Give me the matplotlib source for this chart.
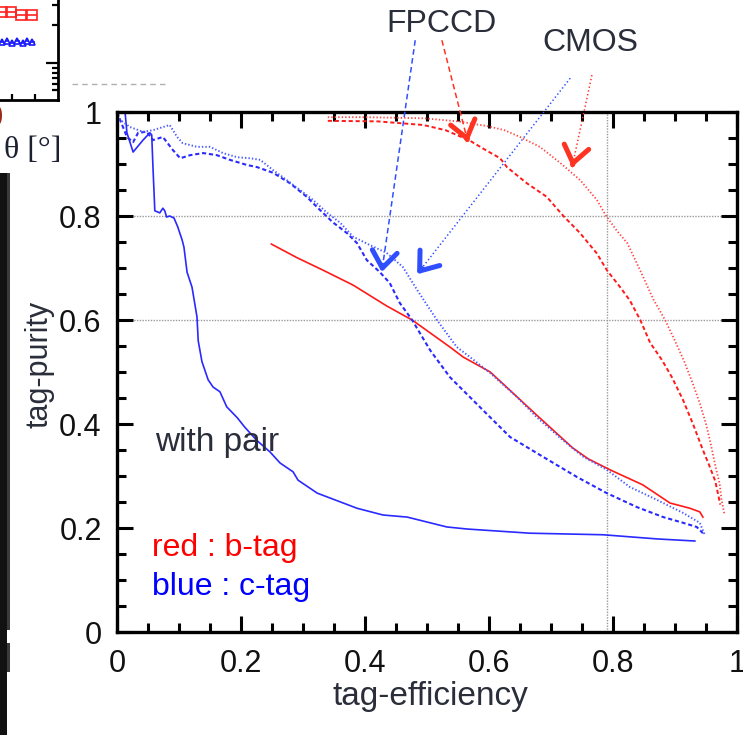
import numpy as np
import matplotlib
matplotlib.use("Agg")
import matplotlib.pyplot as plt
from matplotlib.patches import Rectangle
from matplotlib.lines import Line2D
from matplotlib.ticker import AutoMinorLocator, FuncFormatter

plt.rcParams['lines.scale_dashes'] = False
plt.rcParams['font.family'] = ['Liberation Sans', 'DejaVu Sans']

# ---------------- data: main panel ----------------
b_solid_x = [0.249, 0.290, 0.332, 0.381, 0.435, 0.476, 0.537, 0.558, 0.602, 0.640, 0.677,
             0.735, 0.760, 0.795, 0.848, 0.892, 0.924, 0.940, 0.945]
b_solid_y = [0.746, 0.720, 0.696, 0.667, 0.627, 0.600, 0.548, 0.529, 0.500, 0.458, 0.417,
             0.354, 0.333, 0.312, 0.283, 0.248, 0.238, 0.231, 0.221]

b_fpccd_x = [0.34, 0.42, 0.494, 0.53, 0.569, 0.59, 0.618, 0.629, 0.661, 0.693, 0.720, 0.747,
             0.774, 0.790, 0.811, 0.827, 0.844, 0.860, 0.879, 0.895, 0.913, 0.929, 0.945,
             0.956, 0.965, 0.970, 0.973]
b_fpccd_y = [0.983, 0.982, 0.975, 0.965, 0.945, 0.930, 0.911, 0.894, 0.863, 0.837, 0.800, 0.767,
             0.728, 0.696, 0.664, 0.638, 0.600, 0.556, 0.523, 0.490, 0.446, 0.400, 0.350,
             0.318, 0.290, 0.262, 0.245]

b_cmos_x = [0.34, 0.40, 0.494, 0.55, 0.597, 0.625, 0.650, 0.682, 0.715, 0.747, 0.774, 0.789,
            0.806, 0.823, 0.844, 0.865, 0.884, 0.900, 0.915, 0.928, 0.940, 0.950, 0.958,
            0.965, 0.972, 0.975, 0.980]
b_cmos_y = [0.990, 0.990, 0.988, 0.982, 0.973, 0.965, 0.952, 0.933, 0.902, 0.869, 0.831, 0.800,
            0.772, 0.748, 0.695, 0.640, 0.600, 0.560, 0.520, 0.480, 0.440, 0.400, 0.360,
            0.320, 0.285, 0.255, 0.225]

c_solid_x = [0.0, 0.013, 0.016, 0.026, 0.042, 0.053, 0.056, 0.058, 0.061, 0.069, 0.074, 0.077,
             0.080, 0.085, 0.092, 0.098, 0.105, 0.108, 0.113, 0.121, 0.129, 0.131, 0.137,
             0.147, 0.155, 0.166, 0.177, 0.194, 0.206, 0.225, 0.247, 0.263, 0.284, 0.292,
             0.323, 0.365, 0.387, 0.429, 0.468, 0.532, 0.565, 0.666, 0.784, 0.871, 0.932]
c_solid_y = [1.0, 1.0, 0.960, 0.923, 0.946, 0.960, 0.956, 0.894, 0.810, 0.806, 0.815, 0.810,
             0.798, 0.800, 0.796, 0.779, 0.754, 0.740, 0.692, 0.663, 0.606, 0.560, 0.520,
             0.485, 0.471, 0.462, 0.433, 0.412, 0.394, 0.369, 0.346, 0.325, 0.308, 0.292,
             0.267, 0.248, 0.238, 0.225, 0.221, 0.202, 0.198, 0.190, 0.187, 0.179, 0.175]

c_fpccd_x = [0.0, 0.005, 0.016, 0.026, 0.034, 0.048, 0.058, 0.074, 0.090, 0.102, 0.118, 0.139,
             0.161, 0.182, 0.210, 0.226, 0.252, 0.279, 0.306, 0.327, 0.348, 0.371, 0.387,
             0.403, 0.424, 0.440, 0.456, 0.476, 0.505, 0.537, 0.569, 0.590, 0.634, 0.687,
             0.742, 0.790, 0.839, 0.881, 0.913, 0.935, 0.945]
c_fpccd_y = [1.0, 0.985, 0.952, 0.942, 0.960, 0.962, 0.946, 0.952, 0.927, 0.911, 0.917, 0.921,
             0.917, 0.908, 0.898, 0.894, 0.883, 0.863, 0.837, 0.812, 0.788, 0.767, 0.748,
             0.715, 0.692, 0.671, 0.633, 0.600, 0.542, 0.490, 0.452, 0.427, 0.375, 0.337,
             0.298, 0.267, 0.240, 0.221, 0.210, 0.202, 0.190]

c_cmos_x = [0.0, 0.005, 0.021, 0.042, 0.058, 0.074, 0.085, 0.097, 0.106, 0.129, 0.150, 0.171,
            0.194, 0.215, 0.231, 0.252, 0.274, 0.295, 0.316, 0.339, 0.360, 0.381, 0.408,
            0.435, 0.461, 0.484, 0.516, 0.548, 0.569, 0.602, 0.645, 0.677, 0.719, 0.752,
            0.790, 0.827, 0.871, 0.913, 0.940, 0.948]
c_cmos_y = [1.0, 0.985, 0.971, 0.962, 0.965, 0.971, 0.975, 0.952, 0.940, 0.933, 0.933, 0.921,
            0.913, 0.911, 0.908, 0.888, 0.869, 0.850, 0.831, 0.806, 0.787, 0.760, 0.744,
            0.729, 0.702, 0.658, 0.600, 0.548, 0.529, 0.498, 0.452, 0.413, 0.369, 0.337,
            0.312, 0.279, 0.254, 0.229, 0.210, 0.187]

# annotation arrows: (start, tip) in data coords
arrow_fpccd_blue = [(0.481, 1.138), (0.427, 0.692)]
arrow_fpccd_red = [(0.524, 1.138), (0.566, 0.942)]
arrow_cmos_blue = [(0.731, 1.065), (0.484, 0.688)]
arrow_cmos_red = [(0.766, 1.071), (0.734, 0.894)]

x_ticks = [0, 0.2, 0.4, 0.6, 0.8, 1.0]
y_ticks = [0, 0.2, 0.4, 0.6, 0.8, 1.0]

# ---------------- data: cropped inset (top-left) ----------------
inset_theta_b = [131, 139, 148, 157]
inset_val_b = [88, 88, 85, 85]
inset_theta_c = [131, 135.5, 140, 144.5, 149, 153, 157.5]
inset_val_c = [58, 59, 57, 59, 57, 59, 58]
inset_xticks = [140, 160]
inset_ymajor = [37]
inset_yminor = [10, 16, 22, 27, 32, 75, 95]

W, H = 743, 735
fig = plt.figure(figsize=(W / 100, H / 100), dpi=100)
fig.patch.set_facecolor('white')

def fx(px):
    return px / W

def fy(py):
    return 1 - py / H

# ---------------- main axes ----------------
ax = fig.add_axes([fx(117), fy(632), 620 / W, 520 / H])
ax.set_xlim(0, 1)
ax.set_ylim(0, 1)

RED = '#ff1a1a'
RED_L = '#ff4848'
BLUE = '#2a2aff'
BLUE_L = '#4a5cff'

ax.plot(b_solid_x, b_solid_y, color=RED, lw=1.2)
ax.plot(b_fpccd_x, b_fpccd_y, color=RED, lw=1.4, linestyle=(0, (3, 2)))
ax.plot(b_cmos_x, b_cmos_y, color=RED_L, lw=1.3, linestyle=(0, (1, 1.5)))
ax.plot(c_solid_x, c_solid_y, color=BLUE, lw=1.2)
ax.plot(c_fpccd_x, c_fpccd_y, color=BLUE, lw=1.5, linestyle=(0, (3, 2)))
ax.plot(c_cmos_x, c_cmos_y, color=BLUE_L, lw=1.4, linestyle=(0, (1, 1.5)))

# grid lines (only a few, dotted)
for gy in (0.6, 0.8):
    ax.axhline(gy, color='#9a9a9a', lw=1.0, linestyle=(0, (1, 1)), zorder=0)
ax.axvline(0.79, color='#9a9a9a', lw=1.0, linestyle=(0, (1, 1)), zorder=0)

# spines and ticks
for s in ax.spines.values():
    s.set_linewidth(2.4)
    s.set_color('black')
ax.set_xticks(x_ticks)
ax.set_yticks(y_ticks)
ax.xaxis.set_minor_locator(AutoMinorLocator(4))
ax.yaxis.set_minor_locator(AutoMinorLocator(4))
fmt = FuncFormatter(lambda v, p: '0' if abs(v) < 1e-9 else ('1' if abs(v - 1) < 1e-9 else f'{v:.1f}'))
ax.xaxis.set_major_formatter(fmt)
ax.yaxis.set_major_formatter(fmt)
ax.tick_params(which='both', direction='in', top=True, right=True, width=2.2, color='black')
ax.tick_params(which='major', length=11.5)
ax.tick_params(which='minor', length=6.5)
ax.tick_params(axis='x', which='major', pad=12, labelsize=22, labelcolor='#111111')
ax.tick_params(axis='y', which='major', pad=11, labelsize=22, labelcolor='#111111')

TXT = '#2a2e3a'
ax.set_xlabel('tag-efficiency', fontsize=24, color=TXT)
ax.xaxis.label.set_va('center')
ax.xaxis.set_label_coords(0.505, -0.125)
ax.set_ylabel('tag-purity', fontsize=22, color=TXT)
ax.yaxis.label.set_va('center')
ax.yaxis.set_label_coords(-0.125, 0.515)

ax.text(0.061, 0.348, 'with pair', fontsize=24, color=TXT, ha='left', va='baseline')
ax.text(0.056, 0.146, 'red : b-tag', fontsize=23, color='#ff0000', ha='left', va='baseline')
ax.text(0.056, 0.071, 'blue : c-tag', fontsize=23, color='#0000ff', ha='left', va='baseline')

ax.text(0.524, 1.169, 'FPCCD', fontsize=23, color=TXT, ha='center', va='center')
ax.text(0.763, 1.133, 'CMOS', fontsize=23, color=TXT, ha='center', va='center')

def draw_arrow(pts, color, ls):
    (x0, y0), (x1, y1) = pts
    ax.plot([x0, x1], [y0, y1], color=color, lw=1.1, linestyle=ls, clip_on=False, zorder=5)
    xb = x1 + 0.03 * (x0 - x1)
    yb = y1 + 0.03 * (y0 - y1)
    ax.annotate('', xy=(x1, y1), xytext=(xb, yb), annotation_clip=False,
                arrowprops=dict(arrowstyle='->,head_length=0.6,head_width=0.45',
                                lw=3.6, color=color, mutation_scale=20,
                                shrinkA=0, shrinkB=0), zorder=6)

draw_arrow(arrow_fpccd_blue, '#2f4fff', (0, (4, 2.5)))
draw_arrow(arrow_fpccd_red, '#ff3322', (0, (4, 2.5)))
draw_arrow(arrow_cmos_blue, '#2f4fff', (0, (1, 1.8)))
draw_arrow(arrow_cmos_red, '#ff3322', (0, (1, 1.8)))

# ---------------- cropped inset fragment (top-left) ----------------
ins = fig.add_axes([fx(-100), fy(100), 158 / W, 110 / H])
ins.set_xlim(42, 180)
ins.set_ylim(0, 110)
ins.patch.set_alpha(0)
ins.errorbar(inset_theta_b, inset_val_b, xerr=4.3, fmt='s', mfc='none', mec='#ff2020',
             ecolor='#ff2020', ms=6.5, mew=1.2, elinewidth=1.2, capsize=0)
ins.errorbar(inset_theta_c, inset_val_c, xerr=2.1, fmt='^', mfc='none', mec='#1a1aff',
             ecolor='#1a1aff', ms=5, mew=1.2, elinewidth=1.2, capsize=0)
for side in ('left', 'top'):
    ins.spines[side].set_visible(False)
for side in ('right', 'bottom'):
    ins.spines[side].set_linewidth(2.0)
ins.set_xticks(inset_xticks)
ins.set_yticks(inset_ymajor)
ins.set_yticks(inset_yminor, minor=True)
ins.tick_params(which='both', direction='in', left=False, right=True, labelleft=False,
                labelbottom=False, width=1.6)
ins.tick_params(axis='y', which='major', length=9)
ins.tick_params(axis='y', which='minor', length=4.5)
ins.tick_params(axis='x', which='major', length=4.5)

fig.text(fx(33), fy(150), 'θ [°]', fontsize=23, color='#1c2030', ha='center', va='center',
         family=['Liberation Serif', 'DejaVu Serif'])
fig.text(fx(3), fy(118), '0', fontsize=22, color='#a02818', ha='right', va='center',
         family=['Liberation Serif', 'DejaVu Serif'])
fig.add_artist(Line2D([fx(72), fx(165)], [fy(84), fy(84)], transform=fig.transFigure,
                      color='#b0b0b0', lw=1.0, linestyle=(0, (4, 3))))

# ---------------- black bar on the left edge ----------------
fig.add_artist(Rectangle((0, 0), fx(7), (H - 173) / H, transform=fig.transFigure,
                         facecolor='#111111', edgecolor='none'))
fig.add_artist(Rectangle((fx(7), fy(630)), fx(3), (630 - 173) / H, transform=fig.transFigure,
                         facecolor='#3a3a3a', edgecolor='none'))
fig.add_artist(Rectangle((fx(7), fy(672)), fx(3), (672 - 643) / H, transform=fig.transFigure,
                         facecolor='#3a3a3a', edgecolor='none'))

fig.savefig('out.png', dpi=100)
